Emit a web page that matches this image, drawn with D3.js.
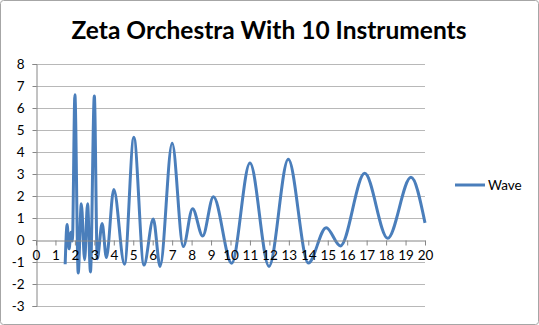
<!doctype html>
<html lang="en">
<head>
  <style>
    body { margin: 0; background: #fff; }
    .tick-label { font: 13.5px Lato, "Open Sans", sans-serif; fill: #000; }
    .title { font: bold 24.5px Lato, "Open Sans", sans-serif; fill: #000; }
  </style>
  <script src="https://d3js.org/d3.v7.min.js"></script>
</head>
<body>
  <script>
    // wave turning points
    const waveX = [1.5, 1.6, 1.7, 1.8, 1.87, 2.0, 2.17, 2.33, 2.5, 2.65, 2.8, 3.0, 3.15, 3.4, 3.62,
                   4.0, 4.55, 5.03, 5.55, 6.03, 6.38, 7.0, 7.57, 8.05, 8.57, 9.12, 10.06, 11.0,
                   11.98, 12.97, 14.0, 14.92, 15.65, 16.9, 18.08, 19.28, 20];
    const waveY = [-1.1, 0.7, -0.4, 0.35, -0.05, 6.6, -1.5, 1.65, -0.9, 1.65, -1.45, 6.55, -0.85, 0.75, -0.8,
                   2.3, -1.1, 4.67, -1.14, 0.95, -1.2, 4.4, -0.3, 1.42, 0.18, 1.97, -1.06, 3.5,
                   -1.2, 3.67, -1.05, 0.56, -0.27, 3.03, 0.08, 2.85, 0.78];
    const xTicks = d3.range(0, 21);
    const yTicks = d3.range(-3, 9);
    const seriesName = "Wave";
    const title = "Zeta Orchestra With 10 Instruments";

    const W = 539, H = 325;
    const plot = { left: 36, right: 425, top: 64, bottom: 306 };

    const svg = d3.select("body").append("svg")
      .attr("width", W).attr("height", H);

    svg.append("rect")
      .attr("x", 0.5).attr("y", 0.5)
      .attr("width", W - 1).attr("height", H - 1)
      .attr("rx", 3)
      .attr("fill", "#fff").attr("stroke", "#a6a6a6");

    const x = d3.scaleLinear().domain([0, 20]).range([plot.left, plot.right]);
    const y = d3.scaleLinear().domain([-3, 8]).range([plot.bottom, plot.top]);

    // gridlines
    svg.append("g")
      .selectAll("line")
      .data(yTicks.filter(d => d !== 0))
      .enter().append("line")
      .attr("x1", plot.left).attr("x2", plot.right)
      .attr("y1", d => Math.round(y(d)) + 0.5).attr("y2", d => Math.round(y(d)) + 0.5)
      .attr("stroke", "#b8b8b8");

    // y axis
    const yAxis = svg.append("g")
      .attr("transform", `translate(${plot.left + 0.5},0)`)
      .call(d3.axisLeft(y).tickValues(yTicks).tickSize(4).tickFormat(d3.format("d")));
    yAxis.select(".domain").attr("stroke", "#868686");
    yAxis.selectAll(".tick line").attr("stroke", "#868686");
    yAxis.selectAll(".tick text")
      .attr("class", "tick-label")
      .attr("x", -12)
      .text(d => d < 0 ? "-" + Math.abs(d) : d);

    // x axis at y = 0
    const xAxis = svg.append("g")
      .attr("transform", `translate(0,${Math.round(y(0)) + 0.5})`)
      .call(d3.axisBottom(x).tickValues(xTicks).tickSize(5).tickSizeOuter(0));
    xAxis.select(".domain").attr("stroke", "#868686");
    xAxis.selectAll(".tick line").attr("stroke", "#868686");
    xAxis.selectAll(".tick text")
      .attr("class", "tick-label")
      .attr("y", 10);

    // wave line
    const pts = waveX.map((d, i) => [d, waveY[i]]);
    const line = d3.line()
      .x(d => x(d[0]))
      .y(d => y(d[1]))
      .curve(d3.curveMonotoneX);
    svg.append("path")
      .datum(pts)
      .attr("d", line)
      .attr("fill", "none")
      .attr("stroke", "#4a7ebb")
      .attr("stroke-width", 3)
      .attr("stroke-linejoin", "round");

    // labels on top of the line, like the original
    xAxis.raise();

    // title
    svg.append("text")
      .attr("class", "title")
      .attr("x", 269).attr("y", 39)
      .attr("text-anchor", "middle")
      .text(title);

    // legend
    svg.append("line")
      .attr("x1", 455).attr("x2", 485)
      .attr("y1", 185).attr("y2", 185)
      .attr("stroke", "#4a7ebb").attr("stroke-width", 3);
    svg.append("text")
      .attr("class", "tick-label")
      .attr("x", 488).attr("y", 185)
      .attr("dy", "0.35em")
      .text(seriesName);
  </script>
</body>
</html>
